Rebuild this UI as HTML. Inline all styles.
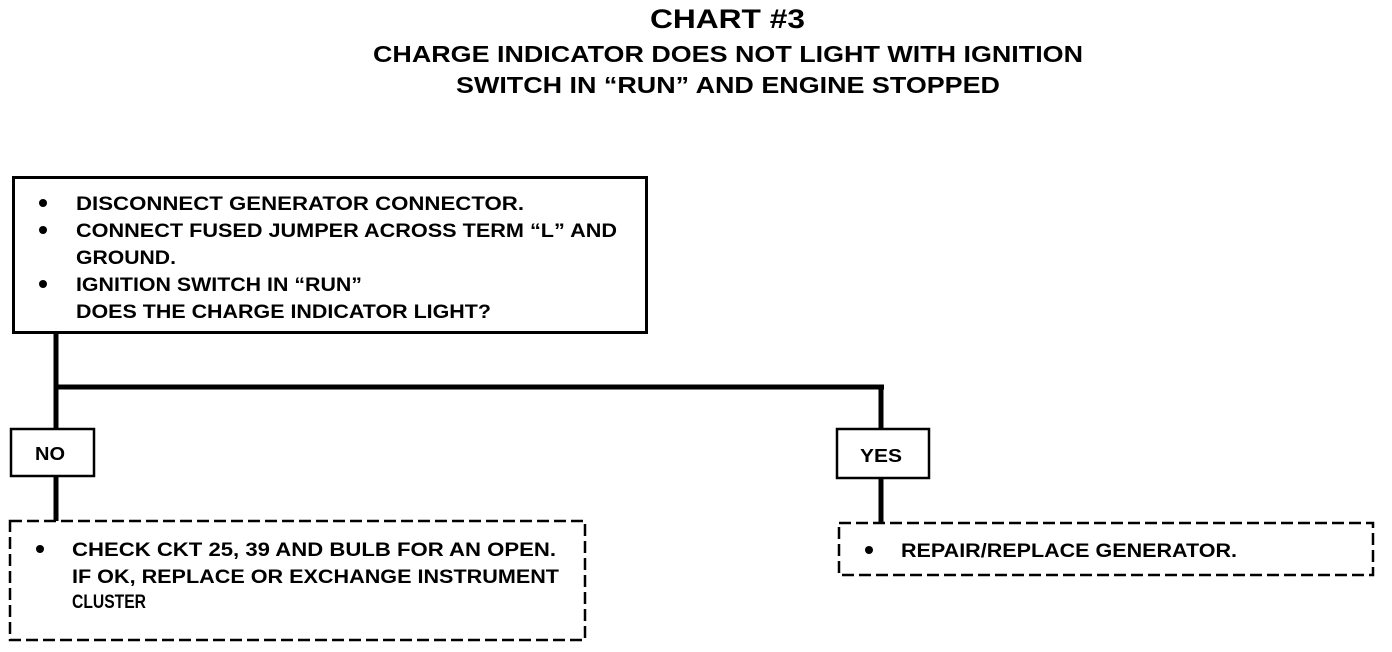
<!DOCTYPE html>
<html><head><meta charset="utf-8"><style>
html,body{margin:0;padding:0;background:#fff;}
svg{display:block;}
text{font-family:"Liberation Sans",Arial,sans-serif;font-weight:bold;fill:#000;}
</style></head><body>
<svg width="1392" height="652" viewBox="0 0 1392 652" xmlns="http://www.w3.org/2000/svg">
<text x="650" y="28" font-size="27" textLength="155" lengthAdjust="spacingAndGlyphs">CHART #3</text>
<text x="373" y="62" font-size="23" textLength="710" lengthAdjust="spacingAndGlyphs">CHARGE INDICATOR DOES NOT LIGHT WITH IGNITION</text>
<text x="456" y="93" font-size="23" textLength="544" lengthAdjust="spacingAndGlyphs">SWITCH IN “RUN” AND ENGINE STOPPED</text>

<rect x="13.5" y="177.5" width="633" height="155" fill="none" stroke="#000" stroke-width="3"/>
<g font-size="19">
<circle cx="43" cy="203" r="4"/>
<text x="76" y="210" textLength="448" lengthAdjust="spacingAndGlyphs">DISCONNECT GENERATOR CONNECTOR.</text>
<circle cx="43" cy="230" r="4"/>
<text x="76" y="237" textLength="541" lengthAdjust="spacingAndGlyphs">CONNECT FUSED JUMPER ACROSS TERM “L” AND</text>
<text x="76" y="264" textLength="100" lengthAdjust="spacingAndGlyphs">GROUND.</text>
<circle cx="43" cy="284" r="4"/>
<text x="76" y="291" textLength="286" lengthAdjust="spacingAndGlyphs">IGNITION SWITCH IN “RUN”</text>
<text x="76" y="318" textLength="415" lengthAdjust="spacingAndGlyphs">DOES THE CHARGE INDICATOR LIGHT?</text>
</g>

<line x1="56" y1="333" x2="56" y2="428" stroke="#000" stroke-width="5"/>
<line x1="54" y1="387" x2="884" y2="387" stroke="#000" stroke-width="5"/>
<line x1="881" y1="385" x2="881" y2="428" stroke="#000" stroke-width="5"/>
<line x1="56" y1="476" x2="56" y2="521" stroke="#000" stroke-width="5"/>
<line x1="881" y1="478" x2="881" y2="523" stroke="#000" stroke-width="5"/>

<rect x="11" y="429" width="83" height="47" fill="#fff" stroke="#000" stroke-width="2.5"/>
<text x="35" y="460" font-size="18" textLength="30" lengthAdjust="spacingAndGlyphs">NO</text>
<rect x="837" y="429" width="92" height="49" fill="#fff" stroke="#000" stroke-width="2.5"/>
<text x="860" y="462" font-size="18" textLength="42" lengthAdjust="spacingAndGlyphs">YES</text>

<rect x="10" y="521" width="575" height="119" fill="none" stroke="#000" stroke-width="2.5" stroke-dasharray="12,5"/>
<g font-size="19">
<circle cx="40" cy="549" r="4"/>
<text x="72" y="556" textLength="484" lengthAdjust="spacingAndGlyphs">CHECK CKT 25, 39 AND BULB FOR AN OPEN.</text>
<text x="72" y="583" textLength="487" lengthAdjust="spacingAndGlyphs">IF OK, REPLACE OR EXCHANGE INSTRUMENT</text>
<text x="72" y="608" textLength="74" lengthAdjust="spacingAndGlyphs">CLUSTER</text>
</g>

<rect x="839" y="523" width="534" height="52" fill="none" stroke="#000" stroke-width="2.5" stroke-dasharray="12,5"/>
<circle cx="869" cy="550" r="4"/>
<text x="901" y="557" font-size="19" textLength="336" lengthAdjust="spacingAndGlyphs">REPAIR/REPLACE GENERATOR.</text>
</svg>
</body></html>
